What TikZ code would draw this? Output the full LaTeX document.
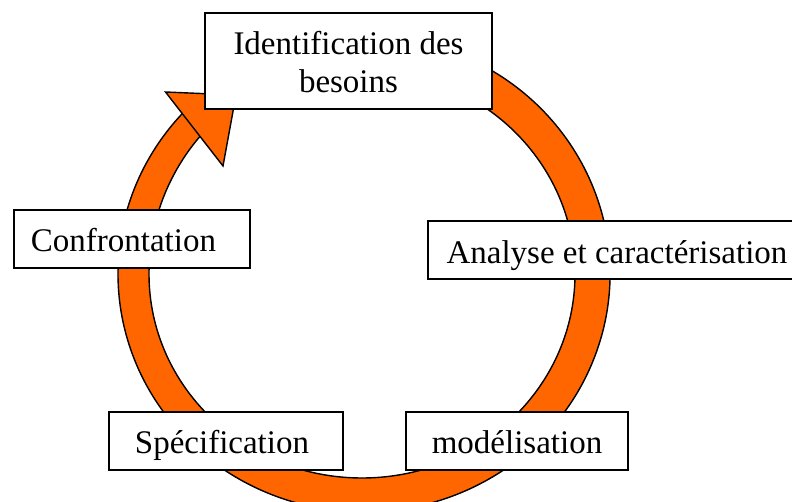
\documentclass[tikz,border=0pt]{standalone}
\usepackage{fontspec}
\setmainfont{Liberation Serif}
\definecolor{ringorange}{RGB}{255,102,0}
\newcommand{\onbase}[2]{\raisebox{-#1}[0pt][0pt]{#2}}
\tikzset{
  stagebox/.style={draw=black,fill=white,line width=1.4pt,inner sep=0pt,align=center,font=\fontsize{33}{38.5}\selectfont},
  ringband/.style={draw=black,fill=ringorange,line width=1.4pt,line join=miter}
}
\begin{document}
\begin{tikzpicture}[x=1pt,y=1pt]
\useasboundingbox (0,0) rectangle (792,501);
\clip (0,0) rectangle (792,501);
% ring: y = 501 - pixel y
\coordinate (outercentre) at (364,227);
\coordinate (innercentre) at (362,227);
\coordinate (headleft) at (165.5,409);
\coordinate (headapex) at (236,406);
\coordinate (headright) at (223,335);
\draw[ringband]
  ([shift={(70:246 and 238)}]outercentre)
  arc[start angle=70,end angle=-222.6,x radius=246,y radius=238]
  -- ([shift={(139:213 and 212)}]innercentre)
  arc[start angle=139,end angle=180,x radius=213,y radius=212]
  arc[start angle=180,end angle=430,x radius=213,y radius=204]
  -- cycle;
\draw[ringband] (headleft) -- (headapex) -- (headright) -- cycle;
\node[stagebox,minimum width=287,minimum height=96] (besoins) at (348.5,440) {\rule{0pt}{25.5pt}Identification des\\besoins};
\node[stagebox,minimum width=368,minimum height=58] (analyse) at (612,251) {\hspace*{10pt}\onbase{13.5pt}{Analyse et caractérisation}};
\node[stagebox,minimum width=236,minimum height=58] (confrontation) at (132,262) {\onbase{12.5pt}{Confrontation}\hspace*{17pt}};
\node[stagebox,minimum width=234,minimum height=58] (specification) at (226,60) {\onbase{12pt}{Spécification}\hspace*{8pt}};
\node[stagebox,minimum width=222,minimum height=58] (modelisation) at (517,60) {\onbase{12pt}{modélisation}};
\end{tikzpicture}
\end{document}
